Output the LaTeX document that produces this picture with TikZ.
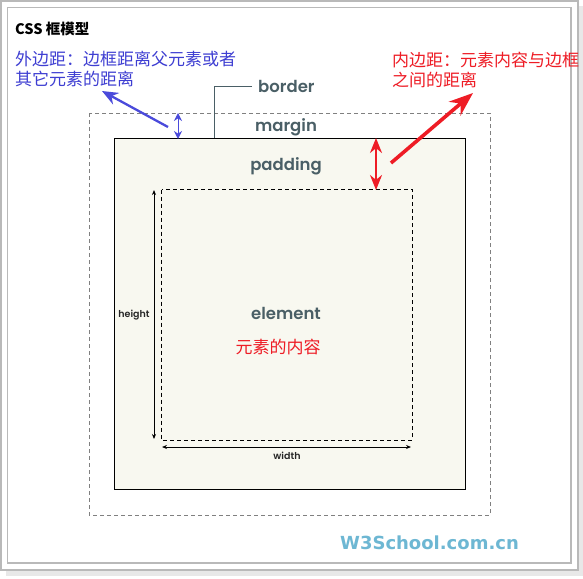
\documentclass[tikz,border=0pt]{standalone}
\usepackage{fontspec}
\newfontfamily\cjk{Noto Sans CJK SC}
\newfontfamily\labelfont{Poppins SemiBold}
\newfontfamily\logofont{DejaVu Sans}
\usetikzlibrary{arrows.meta,positioning}
\definecolor{framegray}{HTML}{B9B9B9}
\definecolor{shadowgray}{HTML}{E8E8E8}
\definecolor{marginline}{HTML}{808080}
\definecolor{boxfill}{HTML}{F8F8F0}
\definecolor{labeltext}{HTML}{4A5F66}
\definecolor{notered}{HTML}{EE1C25}
\definecolor{noteblue}{HTML}{3E3ED2}
\definecolor{arrowblue}{HTML}{4A4ADB}
\definecolor{logoblue}{HTML}{6DB7D3}

\begin{document}
\begin{tikzpicture}[
    x=1pt, y=-1pt,
    every node/.style={inner sep=0pt},
    frame/.style={draw=framegray, line width=1.3pt},
    marginbox/.style={draw=marginline, dash pattern=on 4pt off 3pt, line width=0.8pt},
    borderbox/.style={draw=black, fill=boxfill, line width=1pt},
    elementbox/.style={draw=black, dash pattern=on 4pt off 3pt, line width=0.9pt},
    boxlabel/.style={font=\labelfont\fontsize{16.5}{20}\selectfont, text=labeltext},
    dimlabel/.style={font=\labelfont\fontsize{9.5}{11}\selectfont, text=black!85},
    dimline/.style={line width=0.8pt, {Stealth[length=5pt,width=4pt]}-{Stealth[length=5pt,width=4pt]}},
    note/.style={font=\cjk\fontsize{17}{20}\selectfont, align=left},
    bluetick/.style={arrowblue, line width=1pt, {Stealth[length=8pt,width=8pt]}-{Stealth[length=8pt,width=8pt]}},
    bluepoint/.style={arrowblue, line width=2.3pt, -{Stealth[length=16pt,width=13pt]}},
    redtick/.style={notered, line width=2.3pt, {Stealth[length=15pt,width=12pt]}-{Stealth[length=15pt,width=12pt]}},
    redpoint/.style={notered, line width=3.6pt, -{Stealth[length=24pt,width=18pt]}}
    ]
    \useasboundingbox (0,0) rectangle (583,578);
    % window frame
    \fill[shadowgray] (6,6) rectangle (583,576);
    \draw[frame, fill=white] (1,1) rectangle (578,570);
    \draw[frame] (7.5,7.5) rectangle (571,563);
    \node[font=\cjk\bfseries\fontsize{14.5}{17}\selectfont, anchor=base west] (title) at (15,35) {CSS 框模型};
    % boxes
    \draw[marginbox] (89,113) rectangle (490,515);
    \draw[borderbox] (114,138) rectangle (465,489);
    \draw[elementbox] (161.5,189.5) rectangle (412,440);
    % box labels
    \node[boxlabel, anchor=base west] (bordertxt) at (258,92) {border};
    \node[boxlabel, anchor=base] (margintxt) at (286,131) {margin};
    \node[boxlabel, anchor=base] (paddingtxt) at (286,170) {padding};
    \node[boxlabel, anchor=base] (elementtxt) at (286,319) {element};
    \node[note, text=notered, anchor=base] (contenttxt) at (278,353) {元素的内容};
    \coordinate (bordertop) at (214,138);
    \draw[labeltext, line width=1pt] ([xshift=-6pt]bordertxt.west |- 0,86) -| (bordertop);
    % width and height
    \coordinate (htop) at (154,190);
    \coordinate (hbot) at (154,439);
    \draw[dimline] (htop) -- (hbot);
    \node[dimlabel, anchor=base] (heighttxt) at (134,317) {height};
    \coordinate (wleft) at (162,447);
    \coordinate (wright) at (411,447);
    \draw[dimline] (wleft) -- (wright);
    \node[dimlabel, anchor=base] (widthtxt) at (287,459) {width};
    % margin note
    \node[note, text=noteblue, anchor=base west] (marginnote) at (15,85) {外边距：边框距离父元素或者\\其它元素的距离};
    \coordinate (mtop) at (178,113);
    \coordinate (btop) at (178,139);
    \draw[bluetick] (mtop) -- (btop);
    \coordinate (bluestart) at (168,127);
    \coordinate (bluetip) at (102,91);
    \draw[bluepoint] (bluestart) -- (bluetip);
    % padding note
    \node[note, text=notered, anchor=base west] (paddingnote) at (392,86) {内边距：元素内容与边框\\之间的距离};
    \coordinate (ptop) at (376,138);
    \coordinate (pbot) at (376,190);
    \draw[redtick] (ptop) -- (pbot);
    \coordinate (redstart) at (391,163);
    \coordinate (redtip) at (473,93);
    \draw[redpoint] (redstart) -- (redtip);
    % logo
    \node[font=\logofont\bfseries\fontsize{18}{21}\selectfont, text=logoblue, anchor=base] (logo) at (429.5,549) {W3School.com.cn};
\end{tikzpicture}
\end{document}
